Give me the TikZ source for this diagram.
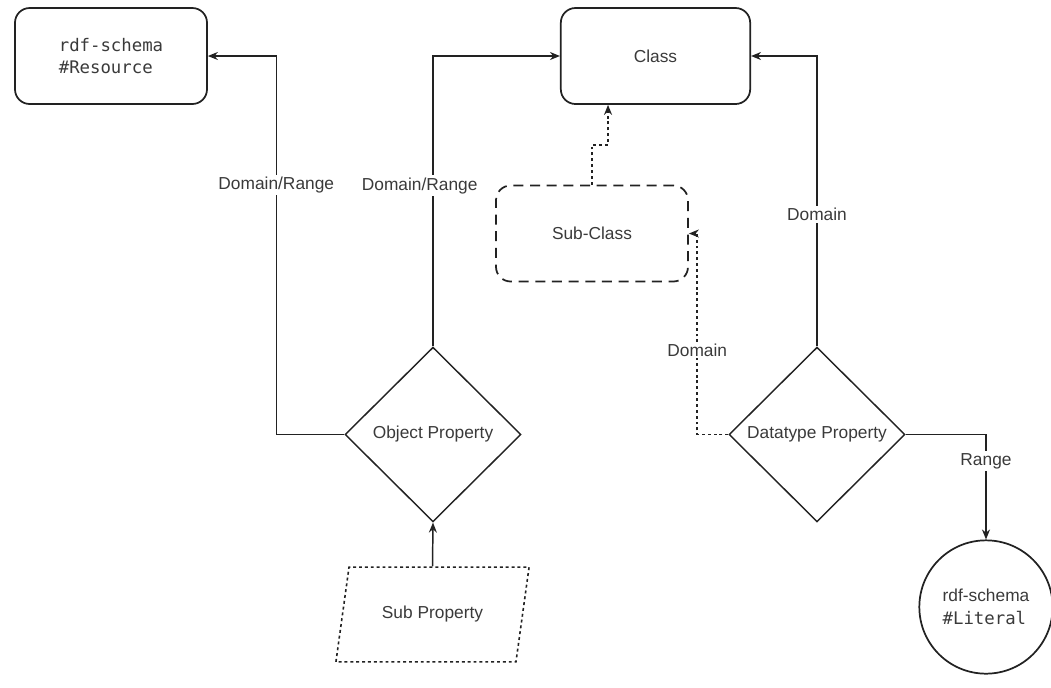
\documentclass[tikz,border=0pt]{standalone}
\usepackage{fontspec}
\setmainfont{Liberation Sans}
\setmonofont{DejaVu Sans Mono}
\usetikzlibrary{shapes.geometric,arrows.meta}
\definecolor{ln}{HTML}{222222}
\definecolor{tx}{HTML}{3A3A3A}
\begin{document}
\begin{tikzpicture}[x=0.75pt,y=-0.75pt,
  every node/.style={font=\fontsize{13}{17}\selectfont, text=tx},
  box/.style={draw=ln, line width=1.3pt, rounded corners=11pt, minimum width=144pt, minimum height=72pt, align=center},
  diam/.style={draw=ln, line width=1.1pt, diamond, aspect=1, minimum width=132pt, minimum height=131pt, inner sep=0pt},
  conn/.style={draw=ln, line width=1.1pt, -{Stealth[length=7.5pt,width=6pt]}},
  dotconn/.style={conn, line width=1.4pt, dash pattern=on 2.2pt off 2.2pt},
  lab/.style={fill=white, inner sep=1.5pt, text=tx}]
\useasboundingbox (0,0) rectangle (1051,687);
\node[box, align=left] (res) at (111,56) {\ttfamily rdf-schema\\\ttfamily \#Resource};
\node[box, minimum width=142pt] (class) at (655.5,56) {Class};
\node[box, dash pattern=on 7.5pt off 5pt] (sub) at (592,233.5) {Sub-Class};
\node[diam] (op) at (433,434.5) {Object Property};
\node[diam] (dp) at (817,434.5) {Datatype Property};
\node[draw=ln, line width=1.2pt, dash pattern=on 2.2pt off 2.2pt, trapezium, trapezium left angle=71, trapezium right angle=109, trapezium stretches=true, minimum width=146pt, minimum height=71pt] (sp) at (432.5,614.5) {Sub Property};
\node[draw=ln, line width=1.3pt, circle, minimum size=100pt, inner sep=0pt, align=left, text depth=0pt] (lit) at (986,607) {\raisebox{-6pt}{}rdf-schema\\\ttfamily\#Literal};
% connectors
\draw[conn] (op.west) -- ++(-68,0) |- (res.east) node[lab, pos=0.33] {Domain/Range};
\draw[conn] (op.north) |- (class.west) node[lab, pos=0.277, xshift=-10pt] {Domain/Range};
\draw[conn] (sp.north) -- (op.south);
\draw[dotconn] (sub.north) -- ++(0,-40) -| ([xshift=-35.6pt]class.south);
\draw[dotconn] (dp.west) -- ++(-31,0) |- (sub.east) node[lab, pos=0.21] {Domain};
\draw[conn] (dp.north) |- (class.east) node[lab, pos=0.227] {Domain};
\draw[conn] (dp.east) -| (lit.north) node[lab, pos=0.627] {Range};
\end{tikzpicture}
\end{document}
